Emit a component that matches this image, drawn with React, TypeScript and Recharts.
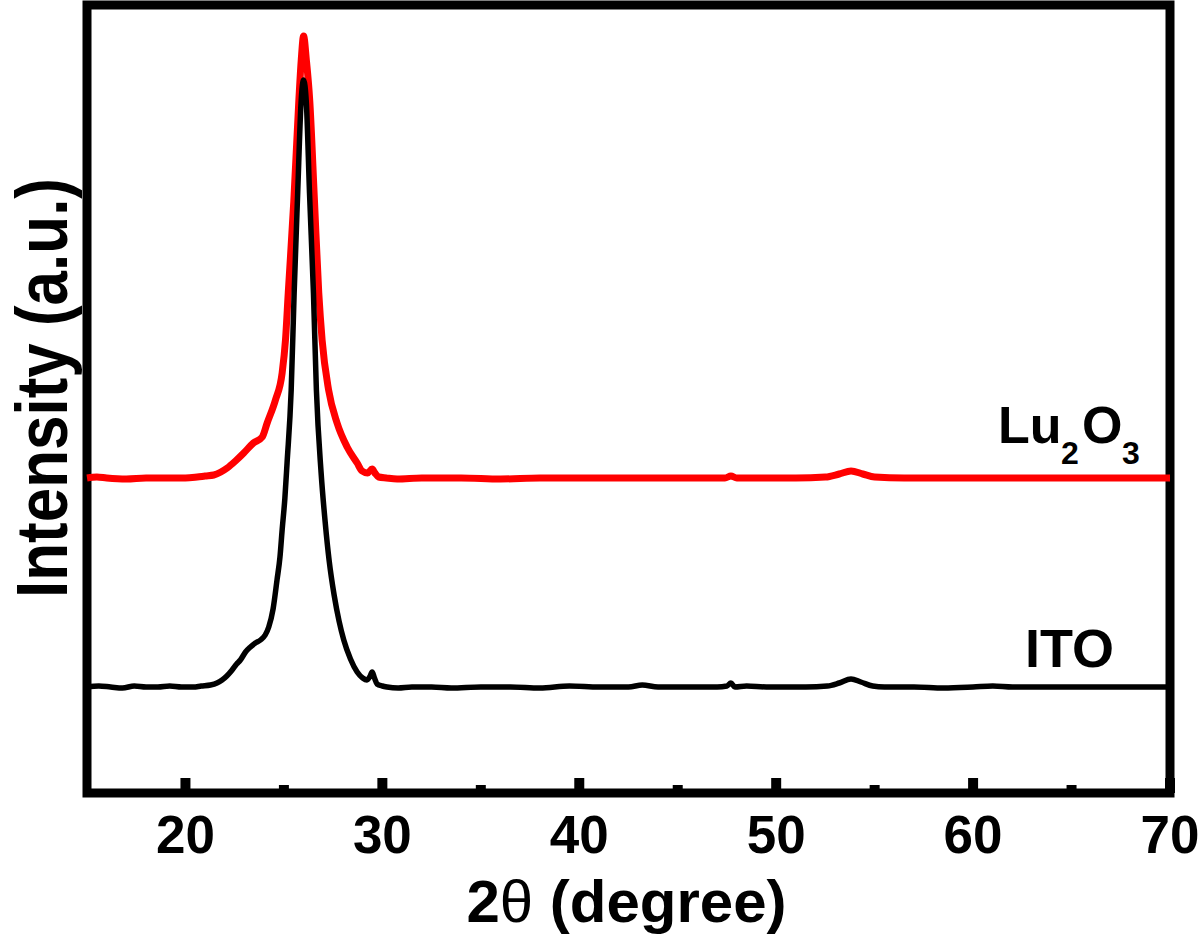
import { Line, LineChart, ReferenceArea, XAxis, YAxis } from "recharts"

// 2θ (degree) / intensity (a.u.)
const itoTheta = [
  15.0, 15.6, 16.2, 16.8, 17.4, 18.0, 18.6, 19.2, 19.8, 20.4, 20.8, 21.27, 21.6, 21.86, 22.1, 22.37,
  22.6, 22.79, 23.05, 23.3, 23.55, 23.81, 24.05, 24.23, 24.45, 24.65, 24.8, 24.91, 25.05, 25.16, 25.37,
  25.52, 25.7, 25.87, 26.0, 26.14, 26.3, 26.5, 26.65, 26.89, 27.1, 27.3, 27.55, 27.8, 28.04, 28.38, 28.72,
  29.0, 29.22, 29.38, 29.48, 29.6, 29.73, 30.0, 30.24, 30.8, 31.5, 32.5, 33.5, 35.0, 36.5, 38.0, 39.5,
  41.0, 42.5, 43.2, 44.0, 45.5, 47.0, 47.5, 47.7, 47.9, 48.5, 49.5, 50.5, 51.5, 52.6, 53.2, 53.8, 54.3,
  54.9, 55.5, 57.0, 58.5, 60.0, 61.0, 62.0, 63.5, 65.0, 66.5, 68.0, 70.0,
]
const itoCounts = [
  106, 107, 106, 105, 107, 106, 106, 107, 106, 106, 107, 108, 110, 113, 117, 123,
  129, 133, 141, 146, 150, 153, 158, 166, 184, 213, 236, 263, 295, 330, 403,
  500, 600, 690, 713, 690, 600, 500, 403, 320, 270, 232, 198, 172, 153, 134, 121,
  115, 113, 117, 121, 115, 109, 107, 106, 105, 106, 106, 105, 106, 106, 105, 107,
  106, 106, 108, 106, 106, 106, 107, 110, 106, 107, 106, 106, 106, 107, 110, 114, 111,
  107, 106, 106, 105, 106, 107, 106, 106, 106, 106, 106, 106,
]

const luTheta = [
  15.0, 15.5, 16.0, 17.0, 18.0, 19.0, 20.0, 20.6, 21.0, 21.44, 21.8, 22.12, 22.54, 22.96, 23.45, 23.9,
  24.15, 24.57, 24.91, 25.08, 25.22, 25.5, 25.76, 25.88, 26.0, 26.14, 26.31, 26.55, 26.77, 26.94, 27.27,
  27.7, 28.21, 28.72, 28.97, 29.25, 29.48, 29.62, 29.81, 30.2, 30.75, 32.0, 34.0, 36.0, 38.0, 40.0,
  42.0, 44.0, 46.0, 47.4, 47.7, 48.0, 49.5, 51.0, 52.5, 53.2, 53.8, 54.4, 55.0, 56.5, 58.0, 60.0, 62.0,
  64.0, 66.0, 68.0, 70.0,
]
const luCounts = [
  315, 316, 315, 314, 315, 315, 315, 316, 317, 318, 321, 325, 332, 340, 350, 356,
  370, 393, 420, 453, 500, 591, 693, 733, 757, 733, 693, 593, 500, 453, 403,
  370, 346, 330, 322, 320, 324, 320, 316, 315, 314, 315, 315, 314, 315, 315,
  315, 315, 315, 315, 317, 315, 315, 315, 316, 319, 322, 319, 316, 315, 315, 315, 315,
  315, 315, 315, 315,
]

const xTicks = [20, 25, 30, 35, 40, 45, 50, 55, 60, 65, 70]
const xLabels = [20, 30, 40, 50, 60, 70]

const itoData = itoTheta.map((t, i) => ({ t, v: itoCounts[i] }))
const luData = luTheta.map((t, i) => ({ t, v: luCounts[i] }))

const FONT = "'Liberation Sans', Arial, Helvetica, sans-serif"

function XTick({ x, y, payload }: any) {
  const major = xLabels.includes(payload.value)
  return (
    <g>
      <line x1={x} x2={x} y1={y} y2={y - (major ? 15 : 8)} stroke="#000" strokeWidth={10} />
      {major && (
        <text x={x} y={y + 60} textAnchor="middle" fontFamily={FONT} fontWeight="bold" fontSize={53} fill="#000">
          {payload.value}
        </text>
      )}
    </g>
  )
}

function XTitle({ viewBox }: any) {
  const cx = viewBox.x + viewBox.width / 2 - 2
  return (
    <text x={cx} y={922} textAnchor="middle" fontFamily={FONT} fontWeight="bold" fontSize={60} fill="#000">
      2<tspan fontWeight="normal">θ</tspan> (degree)
    </text>
  )
}

function YTitle() {
  return (
    <text
      x={67}
      y={388}
      transform="rotate(-90 67 388)"
      textAnchor="middle"
      fontFamily={FONT}
      fontWeight="bold"
      fontSize={72}
      textLength={420}
      lengthAdjust="spacingAndGlyphs"
      fill="#000"
    >
      Intensity (a.u.)
    </text>
  )
}

export default function App() {
  return (
    <div style={{ position: "absolute", left: 0, top: 0, width: 1200, height: 939, background: "#fff" }}>
      <LineChart width={1200} height={939} margin={{ top: 5, right: 30, bottom: 0, left: 0 }}>
        <XAxis
          dataKey="t"
          type="number"
          domain={[15, 70]}
          ticks={xTicks}
          allowDuplicatedCategory={false}
          height={146}
          axisLine={false}
          tickLine={false}
          tickSize={0}
          tickMargin={0}
          tick={XTick}
          interval={0}
          label={<XTitle />}
        />
        <YAxis
          type="number"
          domain={[0, 788]}
          width={87}
          tick={false}
          tickLine={false}
          axisLine={false}
          label={<YTitle />}
        />
        <ReferenceArea x1={15} x2={70} y1={0} y2={788} fill="none" stroke="#000" strokeWidth={9} />
        <Line data={luData} dataKey="v" type="monotone" stroke="#ff0000" strokeWidth={7} dot={false} isAnimationActive={false} />
        <Line data={itoData} dataKey="v" type="monotone" stroke="#000000" strokeWidth={5.5} dot={false} isAnimationActive={false} />
      </LineChart>
      <svg width={1200} height={939} style={{ position: "absolute", left: 0, top: 0, pointerEvents: "none" }}>
        <text fontFamily={FONT} fontWeight="bold" fill="#000">
          <tspan x={998} y={443} fontSize={52}>Lu</tspan>
          <tspan x={1061} y={464} fontSize={32}>2</tspan>
          <tspan x={1082} y={443} fontSize={52}>O</tspan>
          <tspan x={1122} y={464} fontSize={32}>3</tspan>
        </text>
        <text x={1025} y={667} fontFamily={FONT} fontWeight="bold" fontSize={54} fill="#000">
          ITO
        </text>
      </svg>
    </div>
  )
}
